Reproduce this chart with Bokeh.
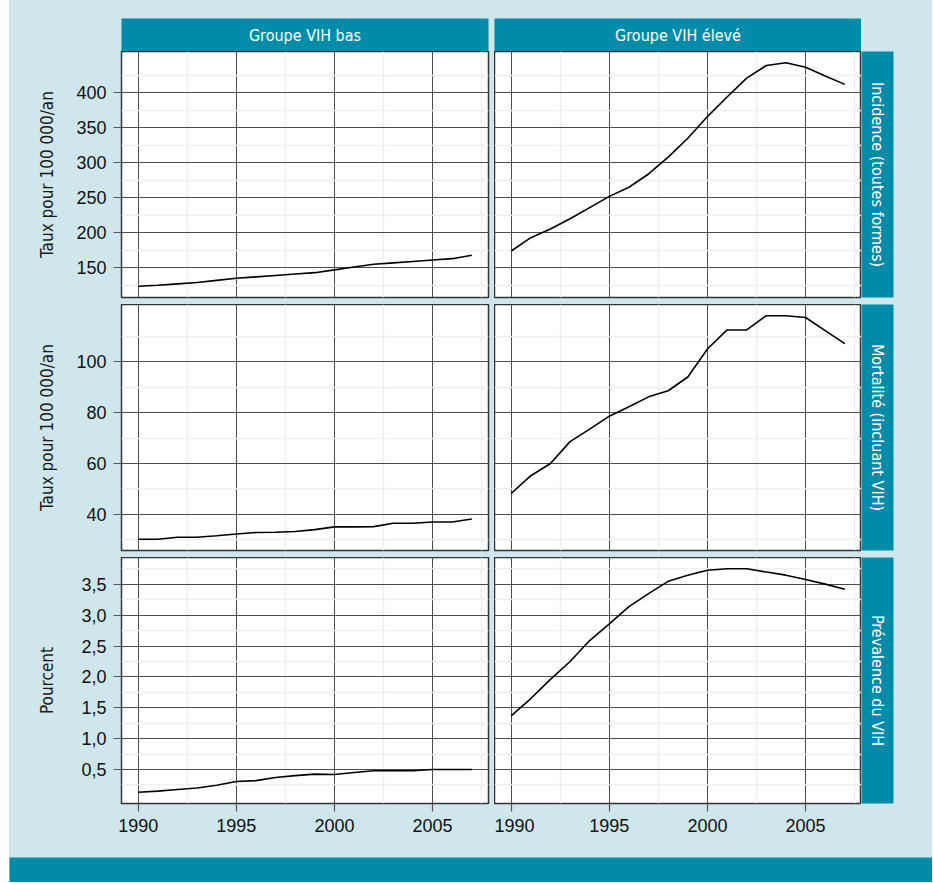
import math
from bokeh.plotting import figure
from bokeh.layouts import row, column
from bokeh.models import Range1d, FixedTicker, CustomJSTickFormatter
from bokeh.core.properties import value
from bokeh.embed import file_html
from bokeh.resources import INLINE

# ---------------- data ----------------
years = list(range(1990, 2008))

inc_low = [123.5, 125, 127, 129, 132, 135, 137, 139, 141, 143, 147, 151, 155, 157, 159, 161, 163, 168]
inc_high = [174, 193, 205.5, 220, 236, 252, 265, 284, 308, 335, 366, 394, 421, 439, 443, 436.5, 424, 412]

mort_low = [30.2, 30.2, 31, 31, 31.6, 32.3, 32.9, 33, 33.3, 34, 35.1, 35.1, 35.2, 36.5, 36.5, 37, 37, 38.2]
mort_high = [48.2, 55.2, 60, 68.6, 73.5, 78.6, 82.3, 86.2, 88.6, 94, 105, 112.5, 112.5, 118.1, 118.1, 117.4, 112.2, 107.1]

prev_low = [0.13, 0.15, 0.175, 0.2, 0.245, 0.305, 0.32, 0.37, 0.4, 0.425, 0.42, 0.45, 0.48, 0.48, 0.48, 0.5, 0.5, 0.5]
prev_high = [1.37, 1.65, 1.96, 2.25, 2.59, 2.86, 3.14, 3.35, 3.55, 3.65, 3.73, 3.755, 3.755, 3.70, 3.65, 3.58, 3.505, 3.42]

col_labels = ["Groupe VIH bas", "Groupe VIH élevé"]
row_labels = ["Incidence (toutes formes)", "Mortalité (incluant VIH)", "Prévalence du VIH"]
y_axis_labels = ["Taux pour 100 000/an", "Taux pour 100 000/an", "Pourcent"]

x_ticks = [1990, 1995, 2000, 2005]
x_minor = [1992.5, 1997.5, 2002.5, 2007.5]
y_ticks = [[150, 200, 250, 300, 350, 400],
           [40, 60, 80, 100],
           [0.5, 1.0, 1.5, 2.0, 2.5, 3.0, 3.5]]
y_minor = [[125, 175, 225, 275, 325, 375, 425],
           [30, 50, 70, 90, 110],
           [0.25, 0.75, 1.25, 1.75, 2.25, 2.75, 3.25, 3.75]]

series = [[inc_low, inc_high], [mort_low, mort_high], [prev_low, prev_high]]

# ---------------- style / layout constants ----------------
BG = "#cfe6ed"
TEAL = "#008ca8"
GRID = "#4f4a4a"
MINOR = "#efefef"
NARROW = "DejaVu Sans Condensed"
FW, FH = 367, 246
GAP = 7
LEFT = 112
STRIP_W = 32
RIGHT_PAD = 39
TOP_PAD = 18
STRIP_H = 33
XAX = 54
BAR = 25


def expand(vals, f=0.05):
    lo, hi = min(vals), max(vals)
    d = (hi - lo) * f
    return lo - d, hi + d


x_lo, x_hi = expand(years)


def strip_fig(w, h, label, vertical, **borders):
    p = figure(frame_width=w, frame_height=h, x_range=Range1d(0, 1), y_range=Range1d(0, 1),
               x_axis_location=None, y_axis_location=None, toolbar_location=None, tools="",
               output_backend="svg", min_border=0, background_fill_color=TEAL,
               border_fill_color=BG, outline_line_color=None, **borders)
    p.grid.visible = False
    p.text(x=[0.5], y=[0.5], text=[label], angle=-math.pi / 2 if vertical else 0,
           text_align="center", text_baseline="middle", text_color="white",
           text_font=value(NARROW), text_font_size="16px")
    return p


def panel(r, c):
    bottom = r == 2
    left = c == 0
    data = series[r]
    y_lo, y_hi = expand(data[0] + data[1])
    p = figure(frame_width=FW, frame_height=FH,
               x_range=Range1d(x_lo, x_hi), y_range=Range1d(y_lo, y_hi),
               x_axis_location="below" if bottom else None,
               y_axis_location="left" if left else None,
               toolbar_location=None, tools="", output_backend="svg",
               min_border=0,
               min_border_left=LEFT if left else 0,
               min_border_right=6 if left else 0,
               min_border_bottom=XAX if bottom else GAP,
               background_fill_color="white", border_fill_color=BG,
               outline_line_color="#333333", outline_line_width=1.5)
    p.xgrid.ticker = FixedTicker(ticks=x_ticks, minor_ticks=x_minor)
    p.ygrid.ticker = FixedTicker(ticks=y_ticks[r], minor_ticks=y_minor[r])
    p.grid.grid_line_color = GRID
    p.grid.grid_line_width = 1
    p.grid.minor_grid_line_color = MINOR
    p.grid.minor_grid_line_width = 1.5

    for ax in p.axis:
        ax.axis_line_color = None
        ax.major_tick_out = 8
        ax.major_tick_in = 0
        ax.minor_tick_out = 0
        ax.minor_tick_in = 0
        ax.major_tick_line_color = "#555555"
        ax.major_tick_line_width = 1.2
        ax.major_label_text_font = "Liberation Sans"
        ax.major_label_text_font_size = "18px"
        ax.major_label_text_color = "#111111"
        ax.major_label_standoff = 7
        ax.axis_label_text_font = NARROW
        ax.axis_label_text_font_size = "17px"
        ax.axis_label_text_font_style = "normal"
        ax.axis_label_text_color = "#1a1a1a"

    if bottom:
        p.xaxis.ticker = FixedTicker(ticks=x_ticks)
    if left:
        p.yaxis.ticker = FixedTicker(ticks=y_ticks[r])
        p.yaxis.axis_label = y_axis_labels[r]
        p.yaxis.axis_label_standoff = 21 if r == 2 else 16
        if r == 2:
            p.yaxis.formatter = CustomJSTickFormatter(code="return tick.toFixed(1).replace('.', ',');")

    p.line(years, data[c], line_color="black", line_width=1.6)
    return p


rows = []
rows.append(row(
    strip_fig(FW, STRIP_H, col_labels[0], False, min_border_left=LEFT, min_border_right=6, min_border_top=TOP_PAD),
    strip_fig(FW, STRIP_H, col_labels[1], False, min_border_top=TOP_PAD),
    spacing=0))
for r in range(3):
    rows.append(row(
        panel(r, 0),
        panel(r, 1),
        strip_fig(STRIP_W, FH, row_labels[r], True, min_border_right=RIGHT_PAD,
                  min_border_bottom=XAX if r == 2 else GAP),
        spacing=0))

bar = figure(frame_width=LEFT + FW + 6 + FW + STRIP_W + RIGHT_PAD, frame_height=BAR,
             x_axis_location=None, y_axis_location=None, toolbar_location=None, tools="",
             output_backend="svg", min_border=0, background_fill_color=TEAL,
             border_fill_color=TEAL, outline_line_color=None)
bar.grid.visible = False
rows.append(bar)

layout = column(*rows, spacing=0, styles={"background-color": BG, "margin-left": "9px"})

open("out.html", "w").write(file_html(layout, INLINE))
